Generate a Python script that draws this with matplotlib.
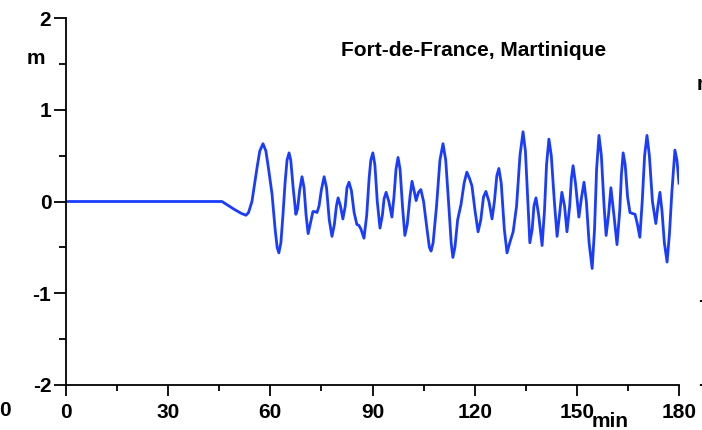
import matplotlib
matplotlib.use("Agg")
import matplotlib.pyplot as plt
from matplotlib.ticker import MultipleLocator

plt.rcParams['font.family'] = ['Liberation Sans', 'DejaVu Sans']
plt.rcParams['font.weight'] = 'bold'
plt.rcParams['axes.unicode_minus'] = False

title = "Fort-de-France, Martinique"
x_ticks = [0, 30, 60, 90, 120, 150, 180]
y_ticks = [-2, -1, 0, 1, 2]

time_min = [
    0, 45.8, 47.5, 49.6, 51.5, 52.85, 53.6, 54.6, 55.4, 56.1, 56.9, 57.85, 58.7, 59.5, 60.5,
    61.4, 62.0, 62.5, 63.1, 63.7, 64.3, 64.9, 65.5, 66.0, 66.7, 67.5, 68.0, 68.6, 69.3,
    69.9, 70.5, 71.1, 71.7, 72.5, 73.1, 73.7, 74.3, 75.0, 75.8, 76.5, 77.3, 78.1, 78.8,
    79.4, 79.9, 80.6, 81.3, 82.0, 82.5, 83.1, 83.8, 84.6, 85.4, 86.0, 86.6, 87.5, 88.3,
    89.0, 89.5, 90.1, 90.7, 91.4, 92.2, 92.9, 93.4, 94.0, 94.8, 95.7, 96.3, 96.9, 97.5,
    98.1, 98.8, 99.5, 100.2, 101.0, 101.6, 102.2, 102.8, 103.5, 104.2, 105.0, 106.0,
    106.7, 107.2, 107.8, 108.8, 109.8, 110.7, 111.5, 112.5, 113.1, 113.6, 114.2, 115.0,
    116.0, 116.9, 117.7, 118.5, 119.2, 120.1, 121.0, 121.8, 122.6, 123.3, 124.2, 125.1,
    125.8, 126.5, 127.1, 127.8, 128.7, 129.5, 130.3, 131.3, 132.3, 133.3, 134.2, 134.9,
    135.6, 136.2, 136.9, 137.4, 138.0, 138.8, 139.8, 140.5, 141.1, 141.8, 142.5, 143.4,
    144.2, 144.9, 145.6, 146.4, 147.1, 147.9, 148.4, 148.9, 149.6, 150.6, 151.4, 152.1,
    152.8, 153.6, 154.5, 155.2, 155.8, 156.5, 157.2, 158.0, 158.6, 159.3, 160.0, 160.9,
    161.8, 162.6, 163.1, 163.6, 164.2, 164.9, 165.6, 166.3, 167.1, 167.8, 168.5, 169.2,
    169.9, 170.6, 171.3, 172.2, 173.2, 173.8, 174.4, 175.0, 175.7, 176.5, 177.2, 177.9,
    178.8, 179.4, 180.0,
]
level_m = [
    0, 0, -0.04, -0.09, -0.13, -0.15, -0.12, 0.0, 0.2, 0.37, 0.55, 0.63, 0.55, 0.35, 0.08,
    -0.3, -0.5, -0.56, -0.45, -0.15, 0.19, 0.45, 0.53, 0.45, 0.15, -0.14, -0.08, 0.12, 0.27,
    0.15, -0.15, -0.35, -0.25, -0.11, -0.11, -0.12, -0.05, 0.13, 0.27, 0.15, -0.2, -0.38, -0.25,
    -0.05, 0.04, -0.05, -0.19, -0.05, 0.15, 0.21, 0.12, -0.12, -0.25, -0.26, -0.3, -0.40, -0.15,
    0.25, 0.45, 0.53, 0.4, 0.0, -0.29, -0.15, 0.03, 0.10, 0.0, -0.17, 0.05, 0.35, 0.48,
    0.35, -0.05, -0.37, -0.25, 0.05, 0.22, 0.12, 0.01, 0.10, 0.13, 0.0, -0.3,
    -0.5, -0.54, -0.45, -0.05, 0.45, 0.63, 0.45, -0.1, -0.45, -0.61, -0.5, -0.2,
    -0.03, 0.2, 0.32, 0.25, 0.17, -0.1, -0.33, -0.2, 0.05, 0.11, 0.0, -0.19,
    0.0, 0.28, 0.36, 0.2, -0.3, -0.56, -0.45, -0.33, -0.05, 0.5, 0.76, 0.55,
    0.0, -0.45, -0.3, -0.05, 0.04, -0.15, -0.48, -0.1, 0.4, 0.68, 0.5, 0.0,
    -0.38, -0.15, 0.10, -0.05, -0.33, -0.05, 0.25, 0.39, 0.2, -0.17, 0.05, 0.21,
    0.0, -0.45, -0.73, -0.3, 0.35, 0.72, 0.5, -0.05, -0.37, -0.15, 0.15, -0.15,
    -0.47, -0.1, 0.3, 0.53, 0.4, 0.05, -0.12, -0.13, -0.14, -0.25, -0.39, 0.0,
    0.5, 0.72, 0.5, 0.0, -0.24, -0.05, 0.10, -0.1, -0.45, -0.66, -0.35, 0.1,
    0.56, 0.45, 0.20,
]

W, H = 702, 430
fig = plt.figure(figsize=(W / 100, H / 100), dpi=100)
ax = fig.add_axes([66 / W, (H - 385) / H, 613 / W, 367 / H])

ax.plot(time_min, level_m, color='#1a3cff', lw=2.0, solid_joinstyle='round')

ax.set_xlim(0, 180)
ax.set_ylim(-2, 2)
ax.set_xticks(x_ticks)
ax.set_yticks(y_ticks)
ax.xaxis.set_minor_locator(MultipleLocator(15))
ax.yaxis.set_minor_locator(MultipleLocator(0.5))
for s in ['top', 'right']:
    ax.spines[s].set_visible(False)
for s in ['left', 'bottom']:
    ax.spines[s].set_linewidth(1.3)
ax.tick_params(axis='x', which='major', length=8, width=1.3, pad=5, labelsize=15)
ax.tick_params(axis='x', which='minor', length=4.3, width=1.3)
ax.tick_params(axis='y', which='major', length=8.6, width=1.3, pad=2, labelsize=15)
ax.tick_params(axis='y', which='minor', length=5, width=1.3)
for lab in ax.get_xticklabels() + ax.get_yticklabels():
    lab.set_fontweight('bold')

fig.text(474 / W, 1 - 50 / H, title, ha='center', va='center', fontsize=15, fontweight='bold')
fig.text(36 / W, 1 - 58 / H, 'm', ha='center', va='center', fontsize=15, fontweight='bold')
fig.text(610 / W, 1 - 427 / H, 'min', ha='center', va='baseline', fontsize=15, fontweight='bold')
fig.text(5 / W, 1 - 411 / H, '0', ha='center', va='center', fontsize=15, fontweight='bold')
fig.text(697 / W, 1 - 85 / H, 'm', ha='left', va='center', fontsize=15, fontweight='bold')
fig.text(698 / W, 1 - 300 / H, '-', ha='left', va='center', fontsize=15, fontweight='bold')
fig.text(698 / W, 1 - 385 / H, '-', ha='left', va='center', fontsize=15, fontweight='bold')

fig.savefig('out.png', dpi=100)
